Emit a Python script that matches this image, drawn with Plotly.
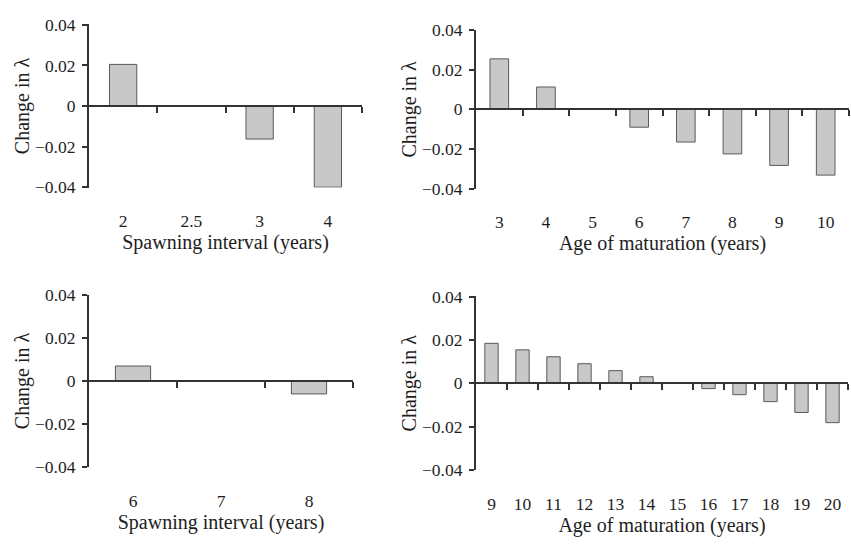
import plotly.graph_objects as go

# ---- data ----
spawn_a_labels = ["2", "2.5", "3", "4"]
spawn_a_values = [0.0205, 0.0, -0.0163, -0.0400]

mat_a_labels = ["3", "4", "5", "6", "7", "8", "9", "10"]
mat_a_values = [0.0255, 0.0113, 0.0, -0.0090, -0.0165, -0.0225, -0.0283, -0.0332]

spawn_b_labels = ["6", "7", "8"]
spawn_b_values = [0.0070, 0.0, -0.0060]

mat_b_labels = ["9", "10", "11", "12", "13", "14", "15", "16", "17", "18", "19", "20"]
mat_b_values = [0.0184, 0.0154, 0.0122, 0.0090, 0.0058, 0.0030, 0.0, -0.0025, -0.0053, -0.0085, -0.0135, -0.0182]

y_ticks = [-0.04, -0.02, 0, 0.02, 0.04]
y_ticktext = ["\u22120.04", "\u22120.02", "0", "0.02", "0.04"]

W, H = 851, 544
FONT = "Liberation Serif"
AX = "#333333"
TXT = "#1e1e1e"

panels = [
    # labels, values, x0, x1, ytop, ybottom (pixels), title, bar width
    (spawn_a_labels, spawn_a_values, 89, 362, 16, 185, "Spawning interval (years)", 0.4),
    (mat_a_labels, mat_a_values, 476, 849, 21.5, 186.5, "Age of maturation (years)", 0.4),
    (spawn_b_labels, spawn_b_values, 89, 353, 296, 475, "Spawning interval (years)", 0.4),
    (mat_b_labels, mat_b_values, 476, 848, 297.5, 478, "Age of maturation (years)", 0.43),
]

fig = go.Figure()
layout = {}
for i, (labels, vals, x0, x1, yt, yb, title, bw) in enumerate(panels):
    n = len(labels)
    idx = i + 1
    xa = f"xaxis{idx}" if idx > 1 else "xaxis"
    ya = f"yaxis{idx}" if idx > 1 else "yaxis"
    xref = f"x{idx}" if idx > 1 else "x"
    yref = f"y{idx}" if idx > 1 else "y"
    xs = list(range(n))
    fig.add_trace(go.Bar(
        x=xs, y=vals, xaxis=xref, yaxis=yref, width=bw,
        marker=dict(color="#c8c8c8", line=dict(color="#5a5a5a", width=1)),
        showlegend=False, hoverinfo="skip",
    ))
    xdom = [x0 / W, x1 / W]
    ydom = [(H - yb) / H, (H - yt) / H]
    layout[xa] = dict(
        domain=xdom, anchor=yref, range=[-0.5, n - 0.5],
        tickvals=xs, ticktext=labels, showline=False, showgrid=False, zeroline=False,
        ticks="", ticklabelstandoff=21,
        tickfont=dict(family=FONT, size=17.5, color=TXT),
        title=dict(text=title, font=dict(family=FONT, size=20, color=TXT), standoff=1),
        fixedrange=True,
    )
    layout[ya] = dict(
        domain=ydom, anchor=xref, range=[-0.0402, 0.0402],
        tickvals=y_ticks, ticktext=y_ticktext, showline=True, linecolor=AX, linewidth=2,
        ticks="outside", ticklen=5, tickwidth=2, tickcolor=AX,
        showgrid=False, zeroline=False, ticklabelstandoff=3,
        tickfont=dict(family=FONT, size=17.5, color=TXT),
        title=dict(text="Change in \u03bb", font=dict(family=FONT, size=20, color=TXT), standoff=0),
        fixedrange=True,
    )
    # zero-line axis with tick marks at category boundaries
    zi = idx + 4
    zx = f"xaxis{zi}"
    fig.add_trace(go.Scatter(
        x=[0], y=[0], xaxis=f"x{zi}", yaxis=yref, mode="markers",
        marker=dict(opacity=0), showlegend=False, hoverinfo="skip",
    ))
    layout[zx] = dict(
        domain=xdom, overlaying=xref, anchor="free",
        position=(ydom[0] + ydom[1]) / 2, side="bottom",
        range=[-0.5, n - 0.5], tickvals=[k + 0.5 for k in range(n)],
        showticklabels=False, showline=True, linecolor=AX, linewidth=2,
        ticks="outside", ticklen=6, tickwidth=2, tickcolor=AX,
        showgrid=False, zeroline=False, fixedrange=True,
    )

fig.update_layout(
    width=W, height=H, margin=dict(l=0, r=0, t=0, b=0),
    paper_bgcolor="white", plot_bgcolor="white",
    **layout,
)
fig.write_html("out.html")
